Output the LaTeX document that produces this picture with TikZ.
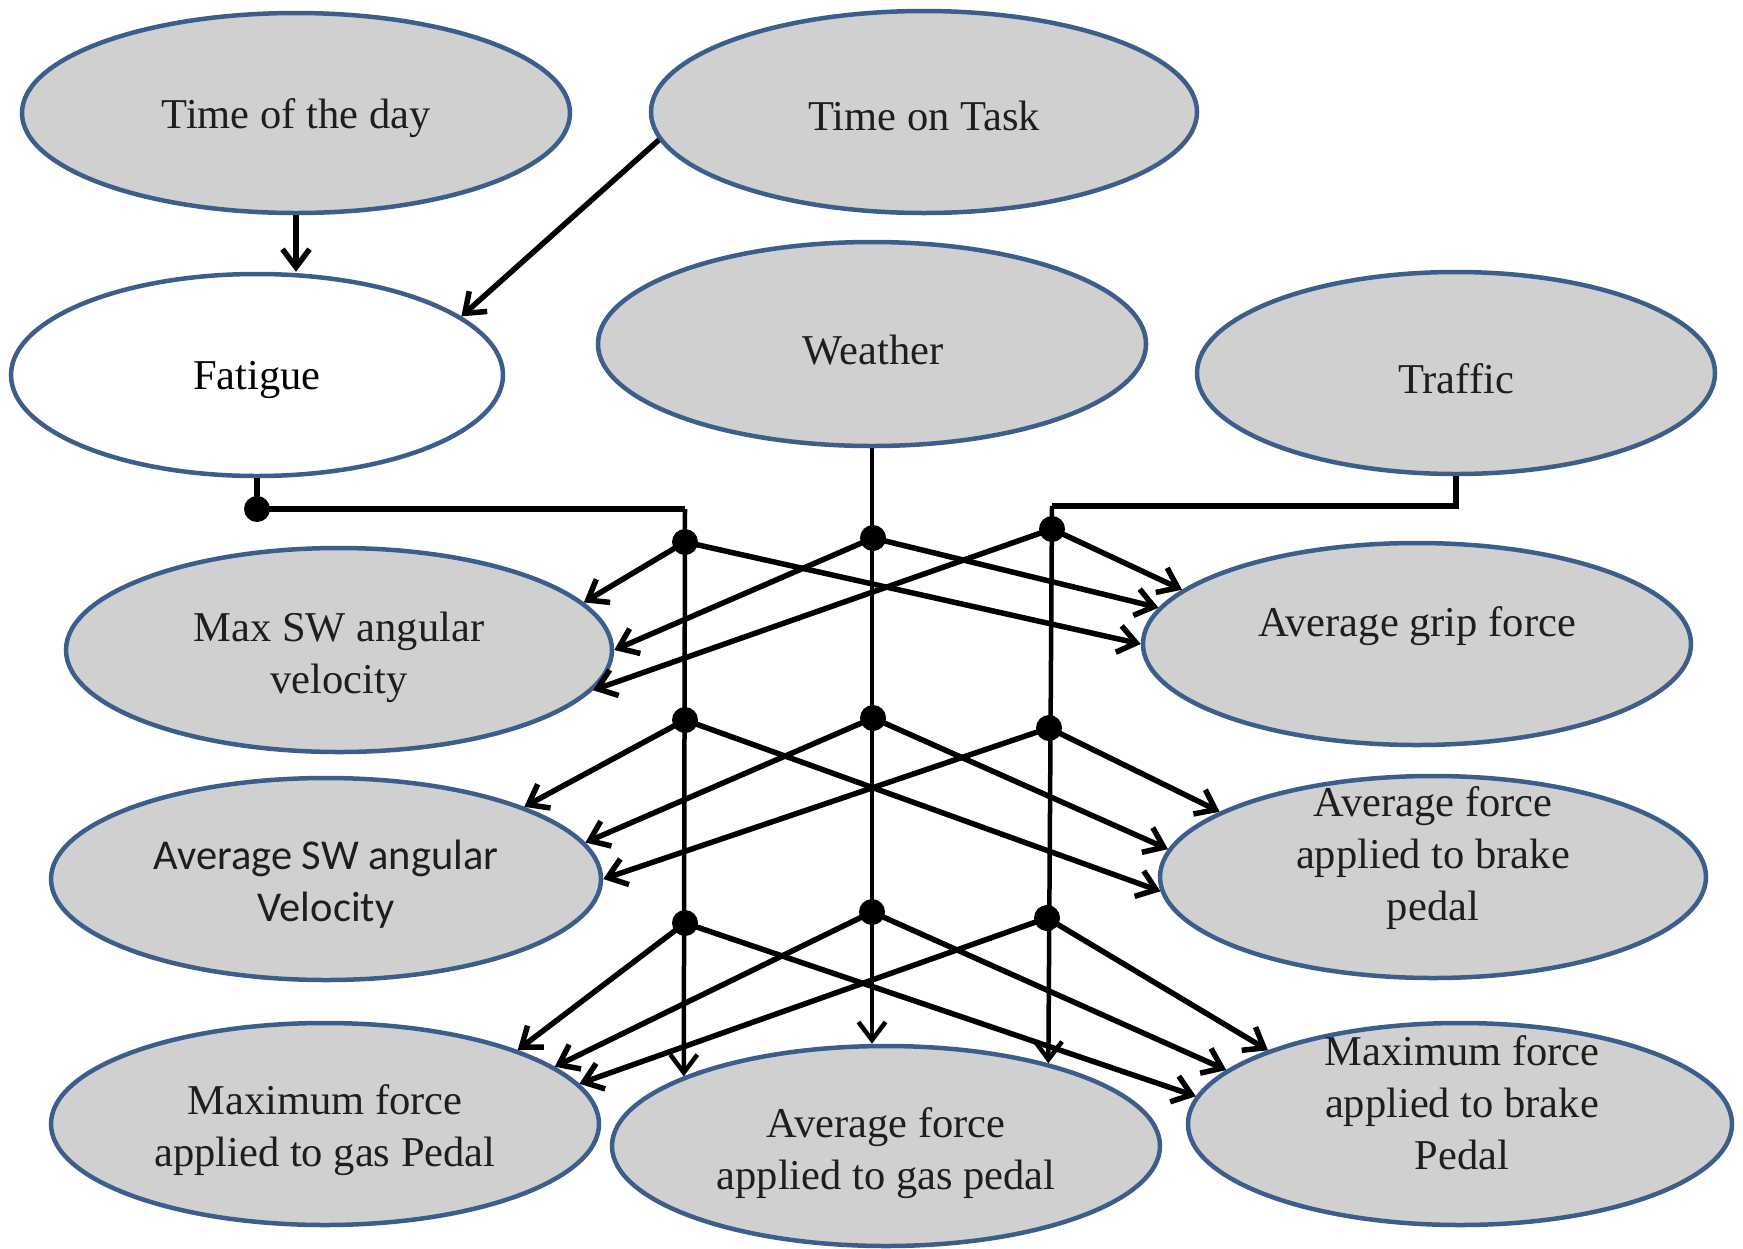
\documentclass[tikz,border=0pt]{standalone}
\usepackage{fontspec}
\setmainfont{Liberation Serif}
\newfontfamily\timesf{Liberation Serif}
\newfontfamily\calib{Carlito}
\usetikzlibrary{shapes.geometric,arrows.meta}
\definecolor{efill}{RGB}{208,208,208}
\definecolor{edraw}{RGB}{61,93,139}
\definecolor{tcol}{RGB}{30,30,30}
\begin{document}
\begin{tikzpicture}[x=1pt,y=-1pt,
 ell/.style={ellipse, draw=edraw, fill=efill, line width=4.5pt, inner sep=0pt},
 txt/.style={align=center, font=\timesf\fontsize{42.5}{52}\selectfont, text=tcol, inner sep=0pt},
 arr/.style={line width=5.5pt, -{Straight Barb[length=18pt,width=27pt]}},
 ln/.style={line width=5.5pt},
 dotn/.style={circle, fill=black, inner sep=0pt, minimum size=26pt}]
\useasboundingbox (0,0) rectangle (1743,1248);
% ellipses
\node[ell, minimum width=548pt, minimum height=200pt] (tod) at (296,113) {};
\node[ell, minimum width=546pt, minimum height=202pt] (tot) at (924,112) {};
\node[ell, fill=white, minimum width=492pt, minimum height=202pt] (fat) at (257,375) {};
\node[ell, minimum width=548pt, minimum height=204pt] (wea) at (872,344) {};
\node[ell, minimum width=518pt, minimum height=202pt] (tra) at (1456,373) {};
\node[ell, minimum width=546pt, minimum height=204pt] (maxsw) at (339,650) {};
\node[ell, minimum width=548pt, minimum height=202pt] (grip) at (1417,644) {};
\node[ell, minimum width=550pt, minimum height=202pt] (avgsw) at (326,879) {};
\node[ell, minimum width=546pt, minimum height=202pt] (brake) at (1433,877) {};
\node[ell, minimum width=548pt, minimum height=202pt] (maxgas) at (325,1124) {};
\node[ell, minimum width=548pt, minimum height=200pt] (avggas) at (886,1146) {};
\node[ell, minimum width=544pt, minimum height=202pt] (maxbrake) at (1460,1124) {};
% texts
\node[txt] (todT) at (296,118) {Time of the day};
\node[txt] (totT) at (924,116) {Time on Task};
\node[txt, text=black] (fatT) at (257,380) {Fatigue};
\node[txt] (weaT) at (873,350) {Weather};
\node[txt] (traT) at (1456,379) {Traffic};
\node[txt] (maxswT) at (339,657) {Max SW angular\\velocity};
\node[txt] (gripT) at (1417,626) {Average grip force};
\node[txt, font=\calib\fontsize{42.5}{52}\selectfont] (avgswT) at (326,884) {Average SW angular\\Velocity};
\node[txt] (brakeT) at (1433,858) {Average force\\applied to brake\\pedal};
\node[txt] (maxgasT) at (325,1130) {Maximum force\\applied to gas Pedal};
\node[txt] (avggasT) at (886,1153) {Average force\\applied to gas pedal};
\node[txt] (maxbrakeT) at (1462,1103) {Maximum force\\applied to brake\\Pedal};
% top arrows
\draw[arr] (tod.south) -- (tod.south |- fat.north);
\draw[arr] (tot.186) -- (fat.16);
% junction points
\coordinate (Fc) at (685,509);
\coordinate (Tc) at (1052,506);
\node[dotn] (fd) at (257,509) {};
\node[dotn] (F1) at (685,542) {};
\node[dotn] (F2) at (685,720) {};
\node[dotn] (F3) at (685,923) {};
\node[dotn] (W1) at (873,538) {};
\node[dotn] (W2) at (873,718) {};
\node[dotn] (W3) at (872,912) {};
\node[dotn] (T1) at (1052,529) {};
\node[dotn] (T2) at (1049,728) {};
\node[dotn] (T3) at (1047,918) {};
% trunks
\draw[ln] (fat.south) -- (fd.center) -- (Fc);
\draw[arr, line width=4.5pt] (Fc) -- (avggas.161);
\draw[arr, line width=4.5pt] (wea.south) -- (wea.south |- avggas.north);
\draw[ln] (tra.south) |- (Tc);
\draw[arr, line width=4.5pt] (Tc) -- (avggas.27);
% branches row 1
\draw[arr] (F1.center) -- (maxsw.11);
\draw[arr] (W1.center) -- (maxsw.0);
\draw[arr] (T1.center) -- (maxsw.351);
\draw[arr] (F1.center) -- (grip.180);
\draw[arr] (W1.center) -- (grip.172);
\draw[arr] (T1.center) -- (grip.167);
% row 2
\draw[arr] (F2.center) -- (avgsw.20);
\draw[arr] (W2.center) -- (avgsw.8);
\draw[arr] (T2.center) -- (avgsw.0);
\draw[arr] (F2.center) -- (brake.183);
\draw[arr] (W2.center) -- (brake.174);
\draw[arr] (T2.center) -- (brake.163);
% row 3
\draw[arr] (F3.center) -- (maxgas.21);
\draw[arr] (W3.center) -- (maxgas.14);
\draw[arr] (T3.center) -- (maxgas.9);
\draw[arr] (F3.center) -- (maxbrake.174);
\draw[arr] (W3.center) -- (maxbrake.167);
\draw[arr] (T3.center) -- (maxbrake.159);
\end{tikzpicture}
\end{document}
